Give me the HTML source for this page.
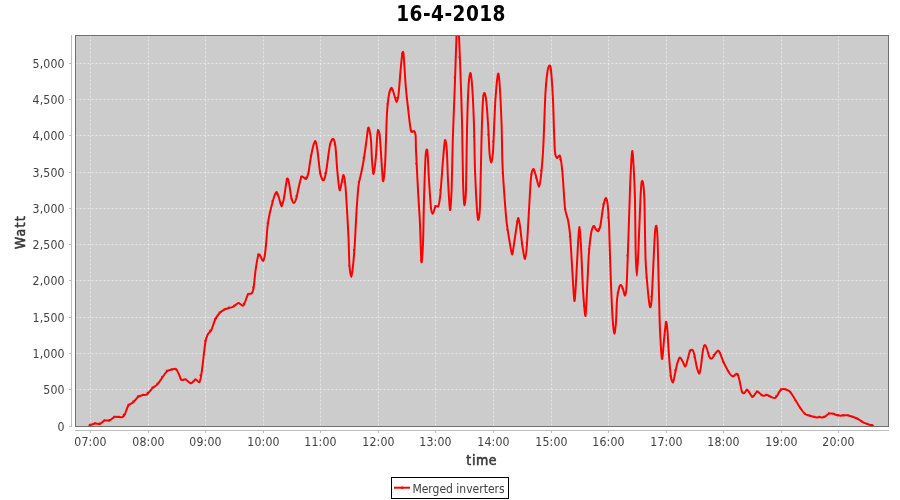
<!DOCTYPE html>
<html lang="nl"><head><meta charset="utf-8"><title>16-4-2018</title>
<style>html,body{margin:0;padding:0;background:#fff}body{width:900px;height:500px;overflow:hidden}svg{display:block}text{font-family:"DejaVu Sans Condensed","DejaVu Sans","Liberation Sans",sans-serif}.tk{font-size:12.2px;letter-spacing:0.15px;fill:#404040}.lg{font-size:12px;fill:#404040}.al{font-size:14px;fill:#383838;stroke:#383838;stroke-width:0.55px;stroke-linejoin:round}.ti{font-size:20.6px;letter-spacing:0.45px;font-weight:bold;fill:#000}</style></head><body>
<svg width="900" height="500" viewBox="0 0 900 500">
<rect x="0" y="0" width="900" height="500" fill="#ffffff"/>
<text class="ti" x="451.1" y="21" text-anchor="middle">16-4-2018</text>
<rect x="75" y="35" width="814" height="392" fill="#cccccc"/>
<path d="M90.5 35.5V426.5M148.5 35.5V426.5M205.5 35.5V426.5M263.5 35.5V426.5M320.5 35.5V426.5M378.5 35.5V426.5M435.5 35.5V426.5M493.5 35.5V426.5M551.5 35.5V426.5M608.5 35.5V426.5M666.5 35.5V426.5M723.5 35.5V426.5M781.5 35.5V426.5M838.5 35.5V426.5M75.5 389.5H888.5M75.5 353.5H888.5M75.5 317.5H888.5M75.5 280.5H888.5M75.5 244.5H888.5M75.5 208.5H888.5M75.5 172.5H888.5M75.5 135.5H888.5M75.5 99.5H888.5M75.5 63.5H888.5" fill="none" stroke="#ffffff" stroke-opacity="0.5" stroke-width="1" stroke-dasharray="2 2"/>
<clipPath id="c"><rect x="75" y="35" width="814" height="392"/></clipPath>
<g clip-path="url(#c)"><path d="M89.4 425.4C90.15 425.16 93.59 423.79 95 423.6C96.41 423.41 98.75 424.4 100 424C101.25 423.6 103.15 421.05 104.4 420.6C105.65 420.15 108.07 421.08 109.4 420.6C110.73 420.12 113.12 417.48 114.4 417C115.68 416.52 117.93 416.97 119 417C120.07 417.03 121.6 417.6 122.4 417.2C123.2 416.8 124.2 415.57 125 414C125.8 412.43 127.25 407 128.4 405.4C129.55 403.8 132.27 403.17 133.6 402C134.93 400.83 137.15 397.53 138.4 396.6C139.65 395.67 141.85 395.29 143 395C144.15 394.71 145.8 395.25 147 394.4C148.2 393.55 150.61 389.93 152 388.6C153.39 387.27 156.07 385.81 157.4 384.4C158.73 382.99 160.72 379.76 162 378C163.28 376.24 165.67 372.32 167 371.2C168.33 370.08 170.8 369.89 172 369.6C173.2 369.31 175.07 368.36 176 369C176.93 369.64 178.28 372.93 179 374.4C179.72 375.87 180.52 379.33 181.4 380C182.28 380.67 184.32 378.95 185.6 379.4C186.88 379.85 189.67 383.4 191 383.4C192.33 383.4 194.45 379.59 195.6 379.4C196.75 379.21 198.75 383.25 199.6 382C200.45 380.75 201.23 375.33 202 370C202.77 364.67 204.6 346.8 205.4 342C206.2 337.2 207.2 335.6 208 334C208.8 332.4 210.47 331.87 211.4 330C212.33 328.13 213.91 322.27 215 320C216.09 317.73 218.35 314.39 219.6 313C220.85 311.61 223.15 310.27 224.4 309.6C225.65 308.93 227.77 308.4 229 308C230.23 307.6 232.35 307.27 233.6 306.6C234.85 305.93 237.09 303.13 238.4 303C239.71 302.87 242.12 306.75 243.4 305.6C244.68 304.45 246.91 296 248 294.4C249.09 292.8 250.85 294.45 251.6 293.6C252.35 292.75 253.07 291.15 253.6 288C254.13 284.85 254.96 274.4 255.6 270C256.24 265.6 257.76 256.87 258.4 255C259.04 253.13 259.79 255.2 260.4 256C261.01 256.8 262.39 261.27 263 261C263.61 260.73 264.53 256.93 265 254C265.47 251.07 266.15 242.73 266.5 239C266.85 235.27 267.19 229.33 267.6 226C268.01 222.67 269.01 216.88 269.6 214C270.19 211.12 271.36 206.8 272 204.4C272.64 202 273.79 197.65 274.4 196C275.01 194.35 275.99 191.73 276.6 192C277.21 192.27 278.33 196.08 279 198C279.67 199.92 280.93 206.4 281.6 206.4C282.27 206.4 283.28 201.65 284 198C284.72 194.35 286.33 181 287 179C287.67 177 288.41 180.47 289 183C289.59 185.53 290.73 195.33 291.4 198C292.07 200.67 293.33 203 294 203C294.67 203 295.73 200.27 296.4 198C297.07 195.73 298.33 188.8 299 186C299.67 183.2 300.79 178.15 301.4 177C302.01 175.85 302.99 177.13 303.6 177.4C304.21 177.67 305.36 179.59 306 179C306.64 178.41 307.81 175.53 308.4 173C308.99 170.47 309.79 163.47 310.4 160C311.01 156.53 312.33 149.53 313 147C313.67 144.47 314.81 140.6 315.4 141C315.99 141.4 316.79 145.87 317.4 150C318.01 154.13 319.33 168.05 320 172C320.67 175.95 321.81 178.67 322.4 179.6C322.99 180.53 323.87 180.28 324.4 179C324.93 177.72 325.68 174.4 326.4 170C327.12 165.6 328.92 150.16 329.8 146C330.68 141.84 332.25 138.8 333 138.8C333.75 138.8 334.81 141.57 335.4 146C335.99 150.43 336.84 166.13 337.4 172C337.96 177.87 339.04 188.53 339.6 190C340.16 191.47 341.07 185 341.6 183C342.13 181 343.07 174.33 343.6 175C344.13 175.67 345.07 182 345.6 188C346.13 194 347.2 213.07 347.6 220C348 226.93 348.35 233.87 348.6 240C348.85 246.13 349.13 261.07 349.5 266C349.87 270.93 350.93 277 351.4 277C351.87 277 352.6 269.6 353 266C353.4 262.4 354.13 253.47 354.4 250C354.67 246.53 354.71 245.33 355 240C355.29 234.67 356.12 217.33 356.6 210C357.08 202.67 358.01 189.8 358.6 185C359.19 180.2 360.36 177.07 361 174C361.64 170.93 362.73 166 363.4 162C364.07 158 365.37 148.49 366 144C366.63 139.51 367.65 130.17 368.1 128.3C368.55 126.43 369.01 128.44 369.4 130C369.79 131.56 370.65 136 371 140C371.35 144 371.65 155.47 372 160C372.35 164.53 373.09 174.27 373.6 174C374.11 173.73 375.29 163.33 375.8 158C376.31 152.67 377.05 137.69 377.4 134C377.75 130.31 378.09 130.17 378.4 130.3C378.71 130.43 379.38 132.37 379.7 135C380.02 137.63 380.36 143.87 380.8 150C381.24 156.13 382.44 178.87 383 181C383.56 183.13 384.6 171.47 385 166C385.4 160.53 385.73 147.07 386 140C386.27 132.93 386.6 119.07 387 113C387.4 106.93 388.39 97.86 389 94.5C389.61 91.14 390.93 87.87 391.6 87.8C392.27 87.73 393.33 92.11 394 94C394.67 95.89 395.99 102 396.6 102C397.21 102 398.07 98.27 398.6 94C399.13 89.73 400.11 75.33 400.6 70C401.09 64.67 401.9 56.07 402.3 54C402.7 51.93 403.13 50.1 403.6 54.5C404.07 58.9 405.13 79.2 405.8 87C406.47 94.8 407.91 107.13 408.6 113C409.29 118.87 410.28 128.6 411 131C411.72 133.4 413.39 130.47 414 131C414.61 131.53 415.33 132.47 415.6 135C415.87 137.53 415.68 142.67 416 150C416.32 157.33 417.47 180.13 418 190C418.53 199.87 419.55 214.4 420 224C420.45 233.6 421 259.33 421.4 262C421.8 264.67 422.65 252.27 423 244C423.35 235.73 423.65 211.73 424 200C424.35 188.27 425.15 162.53 425.6 156C426.05 149.47 426.95 147.8 427.4 151C427.85 154.2 428.52 172.4 429 180C429.48 187.6 430.47 203.52 431 208C431.53 212.48 432.41 213.81 433 213.6C433.59 213.39 434.68 207.41 435.4 206.4C436.12 205.39 437.73 207.65 438.4 206C439.07 204.35 439.79 200.13 440.4 194C441.01 187.87 442.39 167.17 443 160C443.61 152.83 444.49 141.53 445 140.2C445.51 138.87 446.4 144.69 446.8 150C447.2 155.31 447.57 172 448 180C448.43 188 449.52 208.67 450 210C450.48 211.33 451.23 199.33 451.6 190C451.97 180.67 452.43 152.4 452.8 140C453.17 127.6 454.04 106.87 454.4 97C454.76 87.13 455.22 74.13 455.5 66C455.78 57.87 456.27 41.87 456.5 36C456.73 30.13 456.96 23.87 457.2 22C457.44 20.13 458.06 20.13 458.3 22C458.54 23.87 458.75 30.13 459 36C459.25 41.87 459.89 57.87 460.2 66C460.51 74.13 461.03 88.47 461.3 97C461.57 105.53 461.97 118.93 462.2 130C462.43 141.07 462.71 170 463 180C463.29 190 464 203.67 464.4 205C464.8 206.33 465.65 200 466 190C466.35 180 466.65 144 467 130C467.35 116 468.12 92.6 468.6 85C469.08 77.4 470.09 72.33 470.6 73C471.11 73.67 471.95 83.07 472.4 90C472.85 96.93 473.65 114.33 474 125C474.35 135.67 474.6 158.67 475 170C475.4 181.33 476.55 203.33 477 210C477.45 216.67 478 220.53 478.4 220C478.8 219.47 479.59 216.67 480 206C480.41 195.33 481.1 154.13 481.5 140C481.9 125.87 482.59 106.27 483 100C483.41 93.73 484.12 92.47 484.6 93C485.08 93.53 486.09 99.07 486.6 104C487.11 108.93 488 123.33 488.4 130C488.8 136.67 489.2 149.68 489.6 154C490 158.32 490.95 162.67 491.4 162.4C491.85 162.13 492.65 156.32 493 152C493.35 147.68 493.68 136.93 494 130C494.32 123.07 494.87 107.47 495.4 100C495.93 92.53 497.44 76.13 498 74C498.56 71.87 499.12 77.2 499.6 84C500.08 90.8 501.23 114.6 501.6 125C501.97 135.4 502.08 153.33 502.4 162C502.72 170.67 503.44 182 504 190C504.56 198 505.93 215.6 506.6 222C507.27 228.4 508.28 233.68 509 238C509.72 242.32 511.33 253.6 512 254.4C512.67 255.2 513.33 248.05 514 244C514.67 239.95 516.41 227.47 517 224C517.59 220.53 518 217.73 518.4 218C518.8 218.27 519.47 222.27 520 226C520.53 229.73 521.73 241.6 522.4 246C523.07 250.4 524.39 259.27 525 259C525.61 258.73 526.47 250.53 527 244C527.53 237.47 528.47 218.8 529 210C529.53 201.2 530.41 183.47 531 178C531.59 172.53 532.73 169.27 533.4 169C534.07 168.73 535.25 173.6 536 176C536.75 178.4 538.33 187 539 187C539.67 187 540.47 180.67 541 176C541.53 171.33 542.6 158.13 543 152C543.4 145.87 543.68 137.73 544 130C544.32 122.27 544.95 101.73 545.4 94C545.85 86.27 546.87 75.79 547.4 72C547.93 68.21 548.92 65.87 549.4 65.6C549.88 65.33 550.52 65.41 551 70C551.48 74.59 552.6 92 553 100C553.4 108 553.73 123.07 554 130C554.27 136.93 554.6 148.27 555 152C555.4 155.73 556.33 157.47 557 158C557.67 158.53 559.28 154.13 560 156C560.72 157.87 561.73 165.07 562.4 172C563.07 178.93 564.25 201.6 565 208C565.75 214.4 567.33 216.53 568 220C568.67 223.47 569.47 228 570 234C570.53 240 571.41 256.07 572 265C572.59 273.93 573.81 299.67 574.4 301C574.99 302.33 575.92 282.6 576.4 275C576.88 267.4 577.59 250.4 578 244C578.41 237.6 579.1 226.73 579.5 227C579.9 227.27 580.53 237.6 581 246C581.47 254.4 582.4 280.67 583 290C583.6 299.33 584.93 316.67 585.5 316C586.07 315.33 586.86 293.13 587.3 285C587.74 276.87 588.31 261.8 588.8 255C589.29 248.2 590.36 237.87 591 234C591.64 230.13 592.93 226.6 593.6 226C594.27 225.4 595.36 228.83 596 229.5C596.64 230.17 597.79 231.67 598.4 231C599.01 230.33 599.99 227.57 600.6 224.5C601.21 221.43 602.41 211.35 603 208C603.59 204.65 604.57 200.71 605 199.4C605.43 198.09 605.85 197.59 606.2 198.2C606.55 198.81 607.23 200.56 607.6 204C607.97 207.44 608.72 218.4 609 224C609.28 229.6 609.43 238 609.7 246C609.97 254 610.61 274.4 611 284C611.39 293.6 612.15 311.39 612.6 318C613.05 324.61 613.95 333.07 614.4 333.6C614.85 334.13 615.65 326.48 616 322C616.35 317.52 616.6 304.53 617 300C617.4 295.47 618.47 290 619 288C619.53 286 620.47 284.87 621 285C621.53 285.13 622.47 287.59 623 289C623.53 290.41 624.52 296 625 295.6C625.48 295.2 626.2 292.08 626.6 286C627 279.92 627.55 262.8 628 250C628.45 237.2 629.55 202 630 190C630.45 178 631.08 165.2 631.4 160C631.72 154.8 632.11 150.2 632.4 151C632.69 151.8 633.25 159.47 633.6 166C633.95 172.53 634.73 188.8 635 200C635.27 211.2 635.35 239.89 635.6 250C635.85 260.11 636.53 275.8 636.9 275.8C637.27 275.8 637.93 260.11 638.4 250C638.87 239.89 639.97 209.01 640.4 200C640.83 190.99 641.25 184.75 641.6 182.4C641.95 180.05 642.63 180.05 643 182.4C643.37 184.75 644.05 189.65 644.4 200C644.75 210.35 645.12 247.73 645.6 260C646.08 272.27 647.41 285.73 648 292C648.59 298.27 649.52 305.93 650 307C650.48 308.07 651.12 306.27 651.6 300C652.08 293.73 653.15 269.07 653.6 260C654.05 250.93 654.63 236.53 655 232C655.37 227.47 656.05 224.93 656.4 226C656.75 227.07 657.25 230.8 657.6 240C657.95 249.2 658.68 283 659 295C659.32 307 659.6 321.47 660 330C660.4 338.53 661.47 357.67 662 359C662.53 360.33 663.47 344.93 664 340C664.53 335.07 665.55 323.33 666 322C666.45 320.67 667 325.47 667.4 330C667.8 334.53 668.52 349.73 669 356C669.48 362.27 670.47 373.48 671 377C671.53 380.52 672.47 382.8 673 382.4C673.53 382 674.41 376.59 675 374C675.59 371.41 676.73 365.21 677.4 363C678.07 360.79 679.33 357.67 680 357.4C680.67 357.13 681.68 359.8 682.4 361C683.12 362.2 684.65 366.8 685.4 366.4C686.15 366 687.39 360.05 688 358C688.61 355.95 689.39 352.07 690 351C690.61 349.93 692.01 349.47 692.6 350C693.19 350.53 693.81 352.6 694.4 355C694.99 357.4 696.33 365.52 697 368C697.67 370.48 698.87 373.87 699.4 373.6C699.93 373.33 700.52 369.15 701 366C701.48 362.85 702.47 352.8 703 350C703.53 347.2 704.47 345.13 705 345C705.53 344.87 706.41 347.4 707 349C707.59 350.6 708.73 355.75 709.4 357C710.07 358.25 711.25 358.8 712 358.4C712.75 358 714.2 355.07 715 354C715.8 352.93 717.33 350.53 718 350.4C718.67 350.27 719.33 351.59 720 353C720.67 354.41 722.07 358.87 723 361C723.93 363.13 726.07 367.27 727 369C727.93 370.73 729.2 372.99 730 374C730.8 375.01 732.25 376.55 733 376.6C733.75 376.65 734.99 374.75 735.6 374.4C736.21 374.05 737.09 373.25 737.6 374C738.11 374.75 738.81 377.6 739.4 380C739.99 382.4 741.33 390.27 742 392C742.67 393.73 743.73 393.32 744.4 393C745.07 392.68 746.31 389.6 747 389.6C747.69 389.6 748.88 392.01 749.6 393C750.32 393.99 751.76 396.73 752.4 397C753.04 397.27 753.79 395.72 754.4 395C755.01 394.28 756.33 391.87 757 391.6C757.67 391.33 758.73 392.49 759.4 393C760.07 393.51 761.33 395.05 762 395.4C762.67 395.75 763.73 395.65 764.4 395.6C765.07 395.55 766.33 394.95 767 395C767.67 395.05 768.73 395.68 769.4 396C770.07 396.32 771.25 397.13 772 397.4C772.75 397.67 774.33 398.19 775 398C775.67 397.81 776.41 396.85 777 396C777.59 395.15 778.81 392.48 779.4 391.6C779.99 390.72 780.79 389.75 781.4 389.4C782.01 389.05 783.25 388.92 784 389C784.75 389.08 786.2 389.65 787 390C787.8 390.35 789.2 390.8 790 391.6C790.8 392.4 792.2 394.75 793 396C793.8 397.25 795.2 399.67 796 401C796.8 402.33 798.2 404.75 799 406C799.8 407.25 801.2 409.33 802 410.4C802.8 411.47 804.2 413.36 805 414C805.8 414.64 807.2 414.93 808 415.2C808.8 415.47 810.2 415.76 811 416C811.8 416.24 813.2 416.81 814 417C814.8 417.19 816.28 417.4 817 417.4C817.72 417.4 818.73 417 819.4 417C820.07 417 821.33 417.4 822 417.4C822.67 417.4 823.73 417.32 824.4 417C825.07 416.68 826.39 415.45 827 415C827.61 414.55 828.39 413.79 829 413.6C829.61 413.41 830.93 413.55 831.6 413.6C832.27 413.65 833.36 413.81 834 414C834.64 414.19 835.68 414.79 836.4 415C837.12 415.21 838.65 415.52 839.4 415.6C840.15 415.68 841.25 415.65 842 415.6C842.75 415.55 844.28 415.25 845 415.2C845.72 415.15 846.73 415.09 847.4 415.2C848.07 415.31 849.25 415.76 850 416C850.75 416.24 852.2 416.73 853 417C853.8 417.27 855.2 417.65 856 418C856.8 418.35 858.2 419.12 859 419.6C859.8 420.08 861.2 421.12 862 421.6C862.8 422.08 864.2 422.85 865 423.2C865.8 423.55 867.2 423.96 868 424.2C868.8 424.44 870.33 424.81 871 425C871.67 425.19 872.73 425.52 873 425.6" fill="none" stroke="#ff0000" stroke-width="2" stroke-linejoin="round" stroke-linecap="round"/></g>
<g clip-path="url(#c)"><path d="M89.22 423.74h1.6v1.6h-1.6zM94.02 422.33h1.6v1.6h-1.6zM98.81 422.61h1.6v1.6h-1.6zM103.61 419.3h1.6v1.6h-1.6zM108.41 419.08h1.6v1.6h-1.6zM113.2 415.7h1.6v1.6h-1.6zM118 415.72h1.6v1.6h-1.6zM122.8 413.81h1.6v1.6h-1.6zM127.59 403.78h1.6v1.6h-1.6zM132.39 400.6h1.6v1.6h-1.6zM137.19 395.27h1.6v1.6h-1.6zM141.99 393.66h1.6v1.6h-1.6zM146.78 391.84h1.6v1.6h-1.6zM151.58 386.62h1.6v1.6h-1.6zM156.38 382.72h1.6v1.6h-1.6zM161.17 376.06h1.6v1.6h-1.6zM165.97 369.81h1.6v1.6h-1.6zM170.77 368.29h1.6v1.6h-1.6zM175.56 369.25h1.6v1.6h-1.6zM180.36 378.66h1.6v1.6h-1.6zM185.16 378.73h1.6v1.6h-1.6zM189.95 381.88h1.6v1.6h-1.6zM194.75 378.39h1.6v1.6h-1.6zM199.55 374.46h1.6v1.6h-1.6zM204.34 339.95h1.6v1.6h-1.6zM209.14 329.83h1.6v1.6h-1.6zM213.94 318.34h1.6v1.6h-1.6zM218.73 311.39h1.6v1.6h-1.6zM223.53 308.15h1.6v1.6h-1.6zM228.33 306.51h1.6v1.6h-1.6zM233.12 304.68h1.6v1.6h-1.6zM237.92 302.13h1.6v1.6h-1.6zM242.72 302.79h1.6v1.6h-1.6zM247.52 292.92h1.6v1.6h-1.6zM252.31 286.59h1.6v1.6h-1.6zM257.11 253.7h1.6v1.6h-1.6zM261.91 258.98h1.6v1.6h-1.6zM266.7 222.28h1.6v1.6h-1.6zM271.5 200.3h1.6v1.6h-1.6zM276.3 193.19h1.6v1.6h-1.6zM281.09 202.32h1.6v1.6h-1.6zM285.89 178.08h1.6v1.6h-1.6zM290.69 197.83h1.6v1.6h-1.6zM295.48 194.93h1.6v1.6h-1.6zM300.28 175.73h1.6v1.6h-1.6zM305.08 176.76h1.6v1.6h-1.6zM309.87 154.83h1.6v1.6h-1.6zM314.67 142.27h1.6v1.6h-1.6zM319.47 173.13h1.6v1.6h-1.6zM324.26 172.46h1.6v1.6h-1.6zM329.06 143.44h1.6v1.6h-1.6zM333.86 143.98h1.6v1.6h-1.6zM338.66 187.46h1.6v1.6h-1.6zM343.45 181.19h1.6v1.6h-1.6zM348.25 264.98h1.6v1.6h-1.6zM353.05 249.32h1.6v1.6h-1.6zM357.84 181.21h1.6v1.6h-1.6zM362.64 156.97h1.6v1.6h-1.6zM367.44 127.83h1.6v1.6h-1.6zM372.23 172.12h1.6v1.6h-1.6zM377.03 129.26h1.6v1.6h-1.6zM381.83 178.75h1.6v1.6h-1.6zM386.62 103.16h1.6v1.6h-1.6zM391.42 89.39h1.6v1.6h-1.6zM396.22 97.03h1.6v1.6h-1.6zM401.01 52.71h1.6v1.6h-1.6zM405.81 97.87h1.6v1.6h-1.6zM410.61 129.7h1.6v1.6h-1.6zM415.4 162.79h1.6v1.6h-1.6zM420.2 259.56h1.6v1.6h-1.6zM425 152.76h1.6v1.6h-1.6zM429.8 206.97h1.6v1.6h-1.6zM434.59 205.03h1.6v1.6h-1.6zM439.39 188.92h1.6v1.6h-1.6zM444.19 141.54h1.6v1.6h-1.6zM448.98 205.17h1.6v1.6h-1.6zM453.78 76.56h1.6v1.6h-1.6zM458.58 56.6h1.6v1.6h-1.6zM463.37 201.14h1.6v1.6h-1.6zM468.17 78.48h1.6v1.6h-1.6zM472.97 135.7h1.6v1.6h-1.6zM477.76 212.89h1.6v1.6h-1.6zM482.56 94.94h1.6v1.6h-1.6zM487.36 133.84h1.6v1.6h-1.6zM492.15 140.71h1.6v1.6h-1.6zM496.95 74.27h1.6v1.6h-1.6zM501.75 172.03h1.6v1.6h-1.6zM506.54 229h1.6v1.6h-1.6zM511.34 249.77h1.6v1.6h-1.6zM516.14 220.82h1.6v1.6h-1.6zM520.94 243.33h1.6v1.6h-1.6zM525.73 242.16h1.6v1.6h-1.6zM530.53 173.59h1.6v1.6h-1.6zM535.33 176.99h1.6v1.6h-1.6zM540.12 169.63h1.6v1.6h-1.6zM544.92 83.69h1.6v1.6h-1.6zM549.72 68.94h1.6v1.6h-1.6zM554.51 153.14h1.6v1.6h-1.6zM559.31 158.76h1.6v1.6h-1.6zM564.11 208.33h1.6v1.6h-1.6zM568.9 235.85h1.6v1.6h-1.6zM573.7 291.9h1.6v1.6h-1.6zM578.5 229.46h1.6v1.6h-1.6zM583.29 305.28h1.6v1.6h-1.6zM588.09 248.06h1.6v1.6h-1.6zM592.89 225.56h1.6v1.6h-1.6zM597.68 227.97h1.6v1.6h-1.6zM602.48 203.34h1.6v1.6h-1.6zM607.28 216.67h1.6v1.6h-1.6zM612.07 323.42h1.6v1.6h-1.6zM616.87 291.67h1.6v1.6h-1.6zM621.67 287.64h1.6v1.6h-1.6zM626.47 254.73h1.6v1.6h-1.6zM631.26 151.73h1.6v1.6h-1.6zM636.06 266.61h1.6v1.6h-1.6zM640.86 181.1h1.6v1.6h-1.6zM645.65 276.74h1.6v1.6h-1.6zM650.45 295.71h1.6v1.6h-1.6zM655.25 226.41h1.6v1.6h-1.6zM660.04 348.18h1.6v1.6h-1.6zM664.84 321.5h1.6v1.6h-1.6zM669.64 375.04h1.6v1.6h-1.6zM674.43 369.34h1.6v1.6h-1.6zM679.23 356.9h1.6v1.6h-1.6zM684.03 364.97h1.6v1.6h-1.6zM688.82 349.65h1.6v1.6h-1.6zM693.62 356.3h1.6v1.6h-1.6zM698.42 370.79h1.6v1.6h-1.6zM703.21 344.91h1.6v1.6h-1.6zM708.01 355.4h1.6v1.6h-1.6zM712.81 354.01h1.6v1.6h-1.6zM717.61 350.28h1.6v1.6h-1.6zM722.4 361.1h1.6v1.6h-1.6zM727.2 370.2h1.6v1.6h-1.6zM732 375.05h1.6v1.6h-1.6zM736.79 374.34h1.6v1.6h-1.6zM741.59 391.07h1.6v1.6h-1.6zM746.39 389.2h1.6v1.6h-1.6zM751.18 395.62h1.6v1.6h-1.6zM755.98 390.46h1.6v1.6h-1.6zM760.78 394.11h1.6v1.6h-1.6zM765.57 393.73h1.6v1.6h-1.6zM770.37 395.92h1.6v1.6h-1.6zM775.17 395.23h1.6v1.6h-1.6zM779.96 388.25h1.6v1.6h-1.6zM784.76 388.39h1.6v1.6h-1.6zM789.56 391.56h1.6v1.6h-1.6zM794.35 399.12h1.6v1.6h-1.6zM799.15 406.83h1.6v1.6h-1.6zM803.95 412.8h1.6v1.6h-1.6zM808.75 414.45h1.6v1.6h-1.6zM813.54 415.81h1.6v1.6h-1.6zM818.34 415.74h1.6v1.6h-1.6zM823.14 415.67h1.6v1.6h-1.6zM827.93 412.3h1.6v1.6h-1.6zM832.73 412.71h1.6v1.6h-1.6zM837.53 414.19h1.6v1.6h-1.6zM842.32 414.08h1.6v1.6h-1.6zM847.12 414.21h1.6v1.6h-1.6zM851.92 415.77h1.6v1.6h-1.6zM856.71 417.77h1.6v1.6h-1.6zM861.51 420.73h1.6v1.6h-1.6zM866.31 422.77h1.6v1.6h-1.6zM871.1 424.12h1.6v1.6h-1.6z" fill="#ff0000" stroke="none"/></g>
<rect x="75.5" y="35.5" width="813" height="391" fill="none" stroke="#707070" stroke-width="1"/>
<path d="M71.5 35V427M75 430.5H889M69 426.5H71.5M69 389.5H71.5M69 353.5H71.5M69 317.5H71.5M69 280.5H71.5M69 244.5H71.5M69 208.5H71.5M69 172.5H71.5M69 135.5H71.5M69 99.5H71.5M69 63.5H71.5M90.5 430.5V433M148.5 430.5V433M205.5 430.5V433M263.5 430.5V433M320.5 430.5V433M378.5 430.5V433M435.5 430.5V433M493.5 430.5V433M551.5 430.5V433M608.5 430.5V433M666.5 430.5V433M723.5 430.5V433M781.5 430.5V433M838.5 430.5V433" fill="none" stroke="#bcbcbc" stroke-width="1" shape-rendering="crispEdges"/>
<text class="tk" x="64.7" y="430.9" text-anchor="end">0</text>
<text class="tk" x="64.7" y="393.9" text-anchor="end">500</text>
<text class="tk" x="64.7" y="357.9" text-anchor="end">1,000</text>
<text class="tk" x="64.7" y="321.9" text-anchor="end">1,500</text>
<text class="tk" x="64.7" y="284.9" text-anchor="end">2,000</text>
<text class="tk" x="64.7" y="248.9" text-anchor="end">2,500</text>
<text class="tk" x="64.7" y="212.9" text-anchor="end">3,000</text>
<text class="tk" x="64.7" y="176.9" text-anchor="end">3,500</text>
<text class="tk" x="64.7" y="139.9" text-anchor="end">4,000</text>
<text class="tk" x="64.7" y="103.9" text-anchor="end">4,500</text>
<text class="tk" x="64.7" y="67.9" text-anchor="end">5,000</text>
<text class="tk" x="90.5" y="446" text-anchor="middle">07:00</text>
<text class="tk" x="148.5" y="446" text-anchor="middle">08:00</text>
<text class="tk" x="205.5" y="446" text-anchor="middle">09:00</text>
<text class="tk" x="263.5" y="446" text-anchor="middle">10:00</text>
<text class="tk" x="320.5" y="446" text-anchor="middle">11:00</text>
<text class="tk" x="378.5" y="446" text-anchor="middle">12:00</text>
<text class="tk" x="435.5" y="446" text-anchor="middle">13:00</text>
<text class="tk" x="493.5" y="446" text-anchor="middle">14:00</text>
<text class="tk" x="551.5" y="446" text-anchor="middle">15:00</text>
<text class="tk" x="608.5" y="446" text-anchor="middle">16:00</text>
<text class="tk" x="666.5" y="446" text-anchor="middle">17:00</text>
<text class="tk" x="723.5" y="446" text-anchor="middle">18:00</text>
<text class="tk" x="781.5" y="446" text-anchor="middle">19:00</text>
<text class="tk" x="838.5" y="446" text-anchor="middle">20:00</text>
<text class="al" x="481.8" y="464.6" text-anchor="middle" style="letter-spacing:0.6px">time</text>
<text class="al" transform="translate(25.1 232.1) rotate(-90)" text-anchor="middle" style="letter-spacing:1.3px">Watt</text>
<rect x="391.5" y="477.5" width="117" height="21" fill="#ffffff" stroke="#000000" stroke-width="1" shape-rendering="crispEdges"/>
<path d="M394 487.7H410" stroke="#ff0000" stroke-width="2" fill="none"/>
<circle cx="402" cy="487.7" r="1.3" fill="#ff0000"/>
<text class="lg" x="412.4" y="492.8">Merged inverters</text>
</svg></body></html>
